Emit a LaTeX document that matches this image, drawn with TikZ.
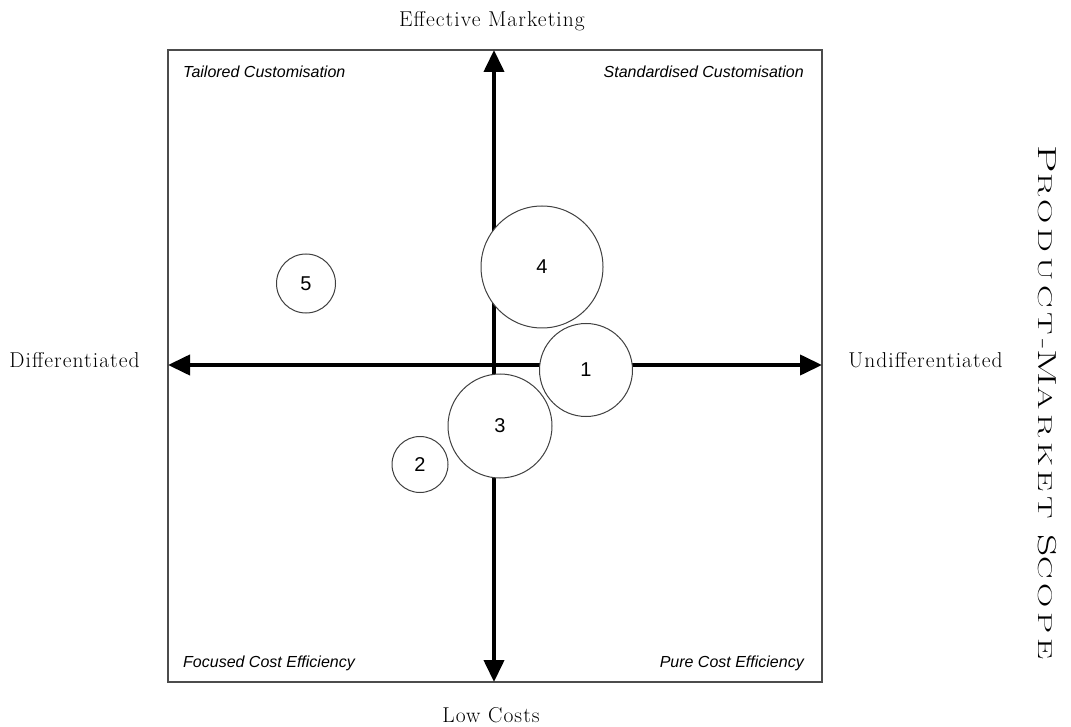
\documentclass[tikz,border=0pt]{standalone}
\usepackage{fontspec}
\usepackage{tikz}
\usetikzlibrary{arrows.meta,positioning}
\newfontfamily\bubblefont{Liberation Sans}
\newfontfamily\polefont[LetterSpace=5]{Latin Modern Roman}
\newfontfamily\scopefont[LetterSpace=14]{Latin Modern Roman}
% large initial for the hand-made small caps
\newcommand{\scopecap}[1]{{\fontsize{26}{28}\selectfont #1}}
\tikzset{
    axis/.style={
            line width=4pt,
            {Triangle[length=22pt,width=20pt]}-{Triangle[length=22pt,width=20pt]}
        },
    bubble/.style={
            circle,
            draw=black!75,
            line width=1pt,
            fill=white,
            inner sep=0pt,
            font=\bubblefont\fontsize{20}{24}\selectfont
        },
    quadrant/.style={
            inner sep=0pt,
            anchor=base,
            font=\bubblefont\itshape\fontsize{16}{19}\selectfont
        },
    pole/.style={
            inner sep=0pt,
            anchor=base,
            font=\polefont\fontsize{21.5}{25}\selectfont
        },
}

\begin{document}
\begin{tikzpicture}[x=1pt,y=-1pt]
  \useasboundingbox (0,0) rectangle (1071,727);
  % Frame
  \coordinate (nw) at (168,50);
  \coordinate (se) at (822,682);
  \coordinate (centre) at (494,365);
  \draw[black!70,line width=1.2pt] (nw) rectangle (se);
  % Axes
  \coordinate (top) at (centre |- nw);
  \coordinate (bottom) at (centre |- se);
  \coordinate (left) at (centre -| nw);
  \coordinate (right) at (centre -| se);
  \draw[axis] (left) -- (right);
  \draw[axis] (bottom) -- (top);
  % Poles
  \node[pole] (marketing) at (492,27) {Effective Marketing};
  \node[pole] (costs) at (491,722) {Low Costs};
  \node[pole] (diff) at (74.5,367) {Differentiated};
  \node[pole] (undiff) at (925.5,367) {Undifferentiated};
  \node[inner sep=0pt,rotate=-90,font=\scopefont\fontsize{20}{28}\selectfont] (scope) at (1047,402.5)
    {\scalebox{1.68}[1]{\scopecap{P}RODUCT-\scopecap{M}ARKET \scopecap{S}COPE}};
  % Quadrants
  \node[quadrant,anchor=base west] (tailored) at (183,78) {Tailored Customisation};
  \node[quadrant,anchor=base east] (standard) at (804,78) {Standardised Customisation};
  \node[quadrant,anchor=base west] (focused) at (183,667) {Focused Cost Efficiency};
  \node[quadrant,anchor=base east] (pure) at (804,667) {Pure Cost Efficiency};
  % Bubbles
  \node[bubble,minimum size=122pt] (b4) at (542,267) {4};
  \node[bubble,minimum size=93pt] (b1) at (586,370) {1};
  \node[bubble,minimum size=104pt] (b3) at (500,426) {3};
  \node[bubble,minimum size=56pt] (b2) at (420,464.5) {2};
  \node[bubble,minimum size=59pt] (b5) at (306,283.5) {5};
\end{tikzpicture}
\end{document}
